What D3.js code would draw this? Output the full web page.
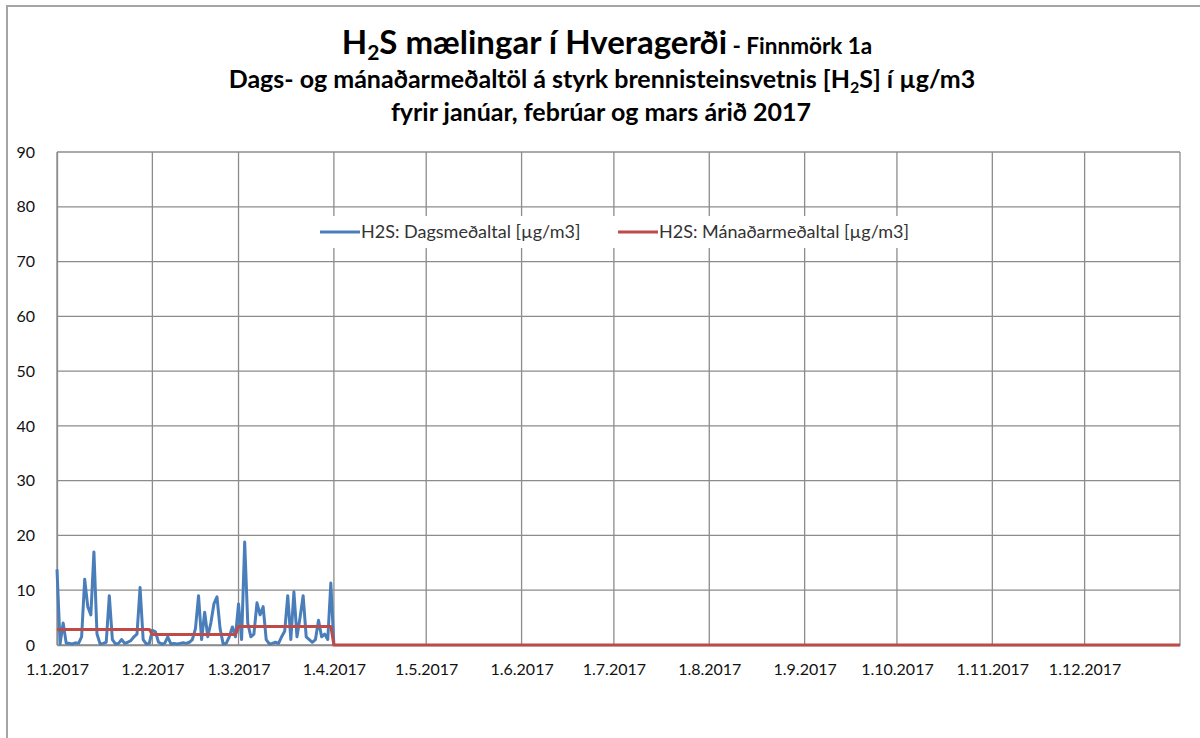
<!DOCTYPE html>
<html>
<head>
<meta charset="utf-8">
<script src="https://cdn.jsdelivr.net/npm/d3@7"></script>
<style>
  body { margin: 0; background: #fff; }
  text { font-family: Lato, "Open Sans", sans-serif; }
</style>
</head>
<body>
<div id="chart"></div>
<script>
var svgWidth = 1200;
var svgHeight = 738;

var margin = { top: 152, right: 20, bottom: 93, left: 57 };
var width = svgWidth - margin.left - margin.right;
var height = svgHeight - margin.top - margin.bottom;

// month tick labels (1st of each month)
var monthTicks = ["1.1.2017", "1.2.2017", "1.3.2017", "1.4.2017", "1.5.2017", "1.6.2017",
  "1.7.2017", "1.8.2017", "1.9.2017", "1.10.2017", "1.11.2017", "1.12.2017"];
var yTicks = [0, 10, 20, 30, 40, 50, 60, 70, 80, 90];

// daily means, 1.1.2017 onward
var dailyValues = [
  13.8, 0.2, 4, 0.3, 0.3, 0.2, 0.4, 0.3, 1.5, 12, 7, 5.5, 17, 2, 0.2, 0.3, 0.5, 9, 1, 0.2,
  0.3, 1, 0.3, 0.5, 0.8, 1.5, 2, 10.5, 1, 0.2, 0.3,
  2.7, 2.4, 0.5, 0.2, 0.3, 1.5, 0.2, 0.3, 0.2, 0.3, 0.4, 0.3, 0.5, 1, 3, 9, 1, 6, 1.5, 4,
  7.5, 8.8, 3, 0.2, 0.3, 1.5, 3.3, 1.5,
  7.5, 1, 18.8, 4, 1.5, 2, 7.7, 5.5, 7, 1, 0.2, 0.3, 0.5, 0.3, 1.5, 2.5, 9, 1, 9.7, 1.5,
  5, 9, 1.5, 1, 0.5, 1, 4.5, 1.5, 2, 1, 11.3,
  0
];

// monthly means per month of 2017
var monthlyAvg = [2.85, 1.9, 3.4, 0, 0, 0, 0, 0, 0, 0, 0, 0];

var seriesNames = ["H2S: Dagsmeðaltal [µg/m3]", "H2S: Mánaðarmeðaltal [µg/m3]"];
var seriesColors = ["#4a7ebb", "#be4b48"];

function parseLabel(s) {
  var p = s.split(".");
  return new Date(Date.UTC(+p[2], +p[1] - 1, +p[0]));
}
var dayMs = 24 * 3600 * 1000;
var start = parseLabel(monthTicks[0]);
var end = new Date(Date.UTC(2018, 0, 1));

var dailyData = dailyValues.map(function (v, i) {
  return { date: new Date(start.getTime() + i * dayMs), value: v };
});

// monthly mean drawn as a daily line: first and last day of each month
var monthlyData = [];
monthlyAvg.forEach(function (v, m) {
  var first = new Date(Date.UTC(2017, m, 1));
  var last = m < 11 ? new Date(Date.UTC(2017, m + 1, 0)) : end;
  monthlyData.push({ date: first, value: v });
  monthlyData.push({ date: last, value: v });
});

var svg = d3.select("#chart").append("svg")
  .attr("width", svgWidth)
  .attr("height", svgHeight);

// chart area frame (clipped at right/bottom)
svg.append("line").attr("x1", 6).attr("x2", svgWidth).attr("y1", 6).attr("y2", 6)
  .attr("stroke", "#a5a5a5").attr("stroke-width", 2);
svg.append("line").attr("x1", 7).attr("x2", 7).attr("y1", 6).attr("y2", svgHeight)
  .attr("stroke", "#a5a5a5").attr("stroke-width", 2);

// titles
var title = svg.append("g").attr("text-anchor", "middle").attr("font-weight", "bold").attr("fill", "#000");
var t1 = title.append("text").attr("x", 607).attr("y", 54);
t1.append("tspan").attr("font-size", 33).text("H");
t1.append("tspan").attr("font-size", 21).attr("dy", 6).text("2");
t1.append("tspan").attr("font-size", 33).attr("dy", -6).text("S mælingar í Hveragerði");
t1.append("tspan").attr("font-size", 22.5).text(" - Finnmörk 1a");

var t2 = title.append("text").attr("x", 602).attr("y", 88).attr("font-size", 25);
t2.append("tspan").text("Dags- og mánaðarmeðaltöl á styrk brennisteinsvetnis [H");
t2.append("tspan").attr("font-size", 16).attr("dy", 5).text("2");
t2.append("tspan").attr("dy", -5).text("S] í µg/m3");

title.append("text").attr("x", 601).attr("y", 121).attr("font-size", 25)
  .text("fyrir janúar, febrúar og mars árið 2017");

var chartGroup = svg.append("g")
  .attr("transform", `translate(${margin.left}, ${margin.top})`);

var xScale = d3.scaleUtc().domain([start, end]).range([0, width]);
var yScale = d3.scaleLinear().domain([0, 90]).range([height, 0]);

var tickDates = monthTicks.map(parseLabel);

// gridlines
chartGroup.append("g").selectAll("line.h")
  .data(yTicks).enter().append("line")
  .attr("x1", 0).attr("x2", width)
  .attr("y1", d => yScale(d)).attr("y2", d => yScale(d))
  .attr("stroke", "#8c8c8c").attr("stroke-width", 1.3);
chartGroup.append("g").selectAll("line.v")
  .data(tickDates.concat([end])).enter().append("line")
  .attr("x1", d => xScale(d)).attr("x2", d => xScale(d))
  .attr("y1", 0).attr("y2", height)
  .attr("stroke", "#8c8c8c").attr("stroke-width", 1.3);

// legend box hides gridlines behind it
var legend = chartGroup.append("g").attr("transform", "translate(253, 64)");
legend.append("rect").attr("x", 0).attr("y", 0).attr("width", 620).attr("height", 32).attr("fill", "#fff");
var legendX = [10, 308];
seriesNames.forEach(function (name, i) {
  legend.append("line").attr("x1", legendX[i]).attr("x2", legendX[i] + 40)
    .attr("y1", 16).attr("y2", 16)
    .attr("stroke", seriesColors[i]).attr("stroke-width", 3);
  legend.append("text").attr("x", legendX[i] + 41).attr("y", 22)
    .attr("font-size", 18).attr("fill", "#333").text(name);
});

// axes
var yAxis = d3.axisLeft(yScale).tickValues(yTicks).tickSize(0).tickPadding(22);
chartGroup.append("g").call(yAxis)
  .call(g => g.select(".domain").attr("stroke", "#8c8c8c").attr("stroke-width", 1.3))
  .selectAll("text").attr("font-size", 16).attr("fill", "#111")
  .attr("font-family", "Lato, 'Open Sans', sans-serif");

var xAxis = d3.axisBottom(xScale).tickValues(tickDates).tickSize(0).tickPadding(19)
  .tickFormat((d, i) => monthTicks[i]);
chartGroup.append("g").attr("transform", `translate(0, ${height})`).call(xAxis)
  .call(g => g.select(".domain").attr("stroke", "#8c8c8c").attr("stroke-width", 1.3))
  .selectAll("text").attr("font-size", 16).attr("fill", "#111")
  .attr("font-family", "Lato, 'Open Sans', sans-serif");

var line = d3.line().x(d => xScale(d.date)).y(d => yScale(d.value));

chartGroup.append("path").datum(dailyData)
  .attr("d", line).attr("fill", "none")
  .attr("stroke", seriesColors[0]).attr("stroke-width", 3)
  .attr("stroke-linejoin", "round");

chartGroup.append("path").datum(monthlyData)
  .attr("d", line).attr("fill", "none")
  .attr("stroke", seriesColors[1]).attr("stroke-width", 3)
  .attr("stroke-linejoin", "round");
</script>
</body>
</html>
